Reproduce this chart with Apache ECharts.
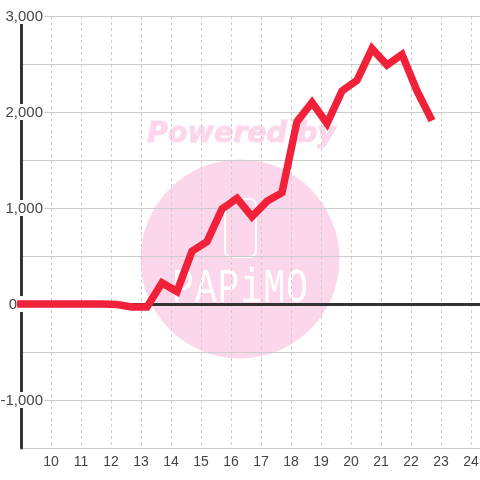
<!DOCTYPE html>
<html><head><meta charset="utf-8">
<style>html,body{margin:0;padding:0;background:#fff}#c{width:480px;height:480px}</style>
<script src="https://cdn.jsdelivr.net/npm/echarts@6/dist/echarts.min.js"></script>
</head><body><div id="c"></div>
<script>
const hours = [8.87,9.2,9.7,10.2,10.7,11.2,11.7,12.2,12.7,13.2,13.7,14.2,14.7,15.2,15.7,16.2,16.7,17.2,17.7,18.2,18.7,19.2,19.7,20.2,20.7,21.2,21.7,22.2,22.7];
const values = [0,0,0,0,0,0,0,-5,-30,-30,220,130,550,650,990,1100,910,1070,1160,1900,2100,1880,2220,2330,2660,2490,2600,2220,1910];
const yMin=-1500, yMax=3000, yStep=500, yLabelStep=1000;
const xMin=9, xMax=24.3, xStep=1;
const markLetters = ['P','A','P','i','M','O'];
const fmt = v => v.toLocaleString('en-US');
const chart = echarts.init(document.getElementById('c'), null, {renderer:'canvas'});
const font = '"Liberation Sans", Arial, sans-serif';
chart.setOption({
  animation:false,
  backgroundColor:'#fff',
  grid:{left:21,top:16,right:0,bottom:32,containLabel:false,outerBoundsMode:'none'},
  graphic:[
    {type:'circle',z:-10,shape:{cx:240,cy:259,r:99.5},style:{fill:'#fcd7ec'}},
    {type:'text',z:-10,style:{x:241.5,y:135,text:'Powered by',align:'center',verticalAlign:'middle',font:'italic bold 28.5px "DejaVu Sans"',fill:'#fcd7ec',stroke:'#fcd7ec',lineWidth:1}},
    {type:'rect',z:-9,shape:{x:225,y:199,width:31,height:58,r:6},style:{fill:'none',stroke:'#fff',lineWidth:2}},
    ...markLetters.map((ch,i)=>({type:'text',z:-9,originX:183+i*22.8,originY:289,scaleY:1.35,
      style:{x:183+i*22.8,y:289,text:ch,align:'center',verticalAlign:'middle',font:'36px "Liberation Mono"',fill:'#fff'}}))
  ],
  xAxis:{type:'value',min:xMin,max:xMax,interval:xStep,
    axisLine:{show:true,onZero:true,lineStyle:{color:'#333',width:3}},
    axisTick:{show:false},
    axisLabel:{color:'#444',fontFamily:font,fontSize:14,margin:7,showMinLabel:false,showMaxLabel:false,hideOverlap:false,
      formatter:v=>Number.isInteger(v)&&v>xMin?String(v):''},
    splitLine:{show:true,lineStyle:{color:'#ccc',type:[3,3],width:1}}
  },
  yAxis:{type:'value',min:yMin,max:yMax,interval:yStep,
    axisLine:{show:true,onZero:false,lineStyle:{color:'#333',width:3}},
    axisTick:{show:false},
    axisLabel:{margin:-23,fontFamily:font,fontSize:14,color:'#444',showMinLabel:true,showMaxLabel:true,hideOverlap:false,
      formatter:v=>v===0?'{z|0}':(v%yLabelStep===0?'{a|'+fmt(v)+'}':''),
      rich:{
        a:{fontFamily:font,fontSize:15,color:'#444',backgroundColor:'#fff',padding:[1,1,0,1],lineHeight:16},
        z:{fontFamily:font,fontSize:15,color:'#444',backgroundColor:'#fff',padding:[1,27,0,3],lineHeight:16}
      }},
    splitLine:{show:true,lineStyle:{color:'#ccc',width:1}}
  },
  series:[{type:'line',clip:false,showSymbol:false,symbol:'none',
    data:hours.map((h,i)=>[h,values[i]]),
    lineStyle:{color:'#f02138',width:7.5,join:'miter',cap:'butt'},z:5}]
});
</script></body></html>
